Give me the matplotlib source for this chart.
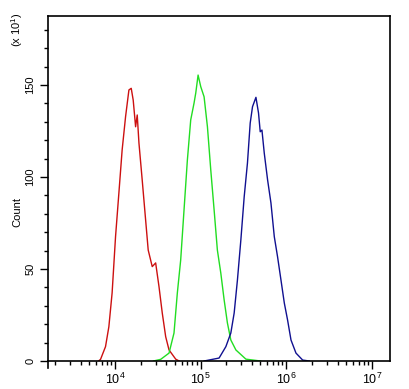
import numpy as np
import matplotlib
matplotlib.use("Agg")
import matplotlib.pyplot as plt
from matplotlib.ticker import LogLocator, FixedLocator, NullFormatter

plt.rcParams['font.family'] = ['Liberation Sans', 'DejaVu Sans']
plt.rcParams['mathtext.fontset'] = 'custom'
plt.rcParams['mathtext.rm'] = 'Liberation Sans'

# log10 intensity and counts (x10^1)
red_log = [3.81, 3.833, 3.891, 3.930, 3.968, 4.008, 4.047, 4.085, 4.125, 4.164, 4.191, 4.214,
           4.242, 4.261, 4.281, 4.319, 4.359, 4.389, 4.436, 4.476, 4.515, 4.553, 4.593,
           4.632, 4.710, 4.75]
red_cnt = [0, 0.9, 7.8, 18.6, 37, 67.6, 91.3, 114.7, 132.8, 147.3, 148.2, 141.8,
           127.3, 133.7, 118.5, 98.4, 76.6, 60.3, 51.3, 53.3, 40.4, 26.1, 13.2,
           6, 1, 0]

green_log = [4.45, 4.535, 4.632, 4.690, 4.729, 4.768, 4.807, 4.846, 4.885, 4.924, 4.944,
             4.971, 5.002, 5.041, 5.080, 5.119, 5.158, 5.196, 5.236, 5.275, 5.313,
             5.353, 5.412, 5.529, 5.70]
green_cnt = [0, 0.9, 4.3, 15.2, 37, 54.9, 82.1, 109.2, 131, 140.2, 145.7,
             155.4, 149.1, 143.6, 127.3, 103.8, 82.1, 60.3, 47.8, 33.2, 20.7,
             11.4, 6, 1, 0]

blue_log = [5.041, 5.216, 5.295, 5.353, 5.392, 5.430, 5.470, 5.509, 5.547, 5.579, 5.606,
            5.646, 5.676, 5.696, 5.716, 5.743, 5.782, 5.821, 5.860, 5.898, 5.938,
            5.977, 6.015, 6.055, 6.113, 6.191, 6.269]
blue_cnt = [0, 1.6, 7.8, 15.2, 26.1, 44, 65.8, 89.3, 107.6, 129.3, 138.2,
            143.3, 134.8, 124.6, 125.5, 113, 98.4, 85.9, 67.6, 56.7, 44,
            31.5, 22.3, 11.4, 4.3, 0.5, 0]

y_ticks = [0, 50, 100, 150]
x_major = [1e4, 1e5, 1e6, 1e7]
x_labels = ['$10^4$', '$10^5$', '$10^6$', '$10^7$']

fig = plt.figure(figsize=(4.10, 3.89), dpi=100)
ax = fig.add_axes([48/410, 28/389, 342/410, 345/389])

ax.plot(10**np.array(red_log), red_cnt, color='#cc1010', lw=1.0)
ax.plot(10**np.array(green_log), green_cnt, color='#22dd22', lw=1.0)
ax.plot(10**np.array(blue_log), blue_cnt, color='#101090', lw=1.0)

ax.set_xscale('log')
ax.set_xlim(10**3.22, 10**7.21)
ax.set_ylim(0, 187.5)

ax.xaxis.set_major_locator(FixedLocator(x_major))
ax.set_xticklabels(x_labels)
ax.xaxis.set_minor_locator(LogLocator(base=10, subs=np.arange(2, 10)))
ax.xaxis.set_minor_formatter(NullFormatter())
ax.set_yticks(y_ticks)
ax.set_yticklabels([str(v) for v in y_ticks], rotation=90, va='center')
ax.yaxis.set_minor_locator(FixedLocator(np.arange(0, 190, 10)))

for s in ax.spines.values():
    s.set_linewidth(1.2)
ax.tick_params(axis='both', which='major', length=6, width=1, labelsize=8, colors='black')
ax.tick_params(axis='x', which='major', labelsize=9, pad=2)
ax.tick_params(axis='both', which='minor', length=3, width=1)
ax.tick_params(axis='y', pad=3)

# spine extension below x axis
ax.plot([0, 0], [0, -0.02], transform=ax.transAxes, color='black', lw=1.2, clip_on=False)

fig.text(17/410, 1 - 212/389, 'Count', rotation=90, ha='center', va='center', fontsize=8)
fig.text(17/410, 1 - 30/389, '(x 10$^1$)', rotation=90, ha='center', va='center', fontsize=8)

fig.savefig('out.png', dpi=100)
